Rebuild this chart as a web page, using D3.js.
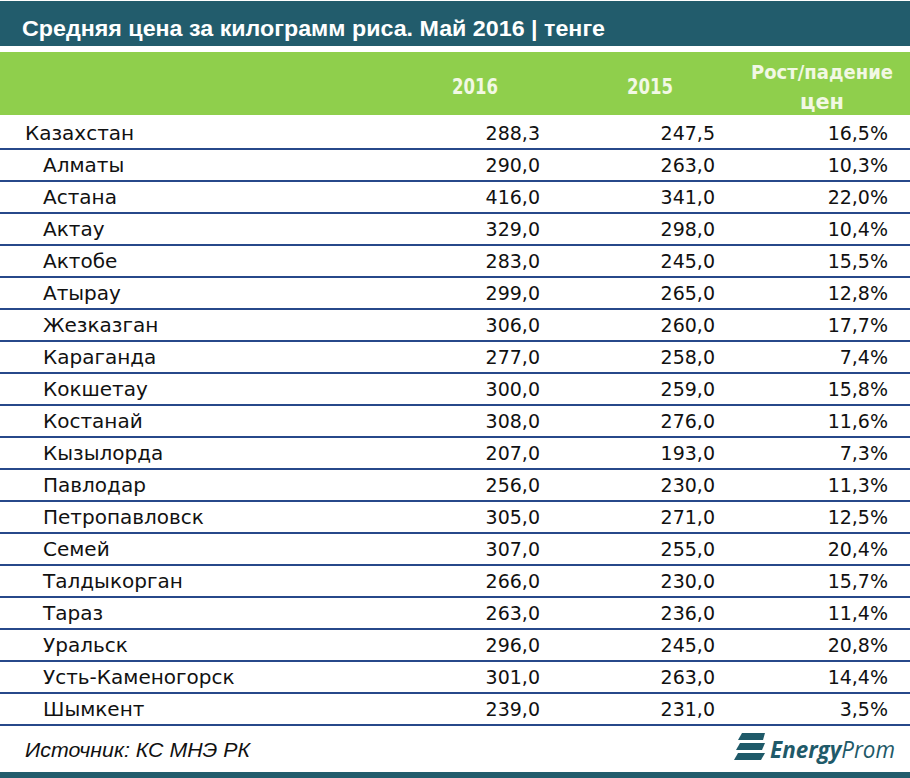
<!DOCTYPE html>
<html>
<head>
<meta charset="utf-8">
<script src="https://cdn.jsdelivr.net/npm/d3@7"></script>
<style>
  body { margin: 0; background: #fff; }
  svg text { font-family: "DejaVu Sans", sans-serif; }
</style>
</head>
<body>
<div id="wrapper"></div>
<script>
// data
const regions = ["Казахстан", "Алматы", "Астана", "Актау", "Актобе", "Атырау", "Жезказган",
  "Караганда", "Кокшетау", "Костанай", "Кызылорда", "Павлодар", "Петропавловск", "Семей",
  "Талдыкорган", "Тараз", "Уральск", "Усть-Каменогорск", "Шымкент"]
const price2016 = [288.3, 290, 416, 329, 283, 299, 306, 277, 300, 308, 207, 256, 305, 307, 266, 263, 296, 301, 239]
const price2015 = [247.5, 263, 341, 298, 245, 265, 260, 258, 259, 276, 193, 230, 271, 255, 230, 236, 245, 263, 231]
const change = [16.5, 10.3, 22.0, 10.4, 15.5, 12.8, 17.7, 7.4, 15.8, 11.6, 7.3, 11.3, 12.5, 20.4, 15.7, 11.4, 20.8, 14.4, 3.5]
const columns = ["2016", "2015", "Рост/падение цен"]
const title = "Средняя цена за килограмм риса. Май 2016 | тенге"
const source = "Источник: КС МНЭ РК"

const width = 910
const height = 778

const svg = d3.select("#wrapper")
  .append("svg")
    .attr("width", width)
    .attr("height", height)

// title bar
svg.append("rect")
  .attr("x", 0).attr("y", 1)
  .attr("width", width).attr("height", 45)
  .attr("fill", "#225c6c")
svg.append("text")
  .attr("x", 22).attr("y", 36)
  .attr("fill", "#fff")
  .style("font-family", "'Liberation Sans Narrow', 'Liberation Sans', sans-serif")
  .style("font-weight", "bold")
  .style("font-size", "22px")
  .attr("textLength", 583)
  .attr("lengthAdjust", "spacingAndGlyphs")
  .text(title)

// header band
svg.append("rect")
  .attr("x", 0).attr("y", 52)
  .attr("width", width).attr("height", 63)
  .attr("fill", "#8fcf4c")

const colX = [540, 715, 888]  // right edges of number columns
const header = svg.append("g")
  .attr("fill", "#f2f8e4")
  .style("font-family", "'Liberation Sans Narrow', 'Liberation Sans', sans-serif")
  .style("font-weight", "bold")
  .style("font-size", "21px")
header.append("text").attr("x", 475).attr("y", 94).attr("text-anchor", "middle")
  .attr("textLength", 46).attr("lengthAdjust", "spacingAndGlyphs").text(columns[0])
header.append("text").attr("x", 650).attr("y", 94).attr("text-anchor", "middle")
  .attr("textLength", 46).attr("lengthAdjust", "spacingAndGlyphs").text(columns[1])
const hdr = columns[2].split(" ")
header.append("text").attr("x", 822).attr("y", 79).attr("text-anchor", "middle")
  .style("font-size", "19px")
  .attr("textLength", 142).attr("lengthAdjust", "spacingAndGlyphs").text(hdr[0])
header.append("text").attr("x", 822).attr("y", 109).attr("text-anchor", "middle")
  .attr("textLength", 44).attr("lengthAdjust", "spacingAndGlyphs").text(hdr[1])

// rows
const y = d3.scaleBand()
  .domain(d3.range(regions.length))
  .range([117, 117 + 32 * regions.length])

const fmt = v => d3.format(".1f")(v).replace(".", ",")

const rows = svg.append("g")
  .selectAll("g")
  .data(regions)
  .join("g")
    .attr("transform", (d, i) => `translate(0, ${y(i)})`)

rows.append("line")
  .attr("x1", 0).attr("x2", width)
  .attr("y1", y.bandwidth()).attr("y2", y.bandwidth())
  .attr("stroke", "#27488a")
  .attr("stroke-width", 2)

const cellY = y.bandwidth() / 2 + 7
rows.append("text")
  .attr("x", (d, i) => i == 0 ? 25 : 43)
  .attr("y", cellY)
  .attr("fill", "#111")
  .style("font-size", "20px")
  .text(d => d)
rows.append("text")
  .attr("x", colX[0]).attr("y", cellY)
  .attr("text-anchor", "end")
  .attr("fill", "#111")
  .style("font-size", "19px")
  .text((d, i) => fmt(price2016[i]))
rows.append("text")
  .attr("x", colX[1]).attr("y", cellY)
  .attr("text-anchor", "end")
  .attr("fill", "#111")
  .style("font-size", "19px")
  .text((d, i) => fmt(price2015[i]))
rows.append("text")
  .attr("x", colX[2]).attr("y", cellY)
  .attr("text-anchor", "end")
  .attr("fill", "#111")
  .style("font-size", "19px")
  .text((d, i) => fmt(change[i]) + "%")

// footer
svg.append("text")
  .attr("x", 25).attr("y", 757)
  .attr("fill", "#111")
  .style("font-family", "'Liberation Sans Narrow', 'Liberation Sans', sans-serif")
  .style("font-style", "italic")
  .style("font-size", "21px")
  .attr("textLength", 225)
  .attr("lengthAdjust", "spacingAndGlyphs")
  .text(source)

// logo
const logo = svg.append("g").attr("transform", "translate(735, 733)")
d3.range(3).forEach(i => {
  logo.append("path")
    .attr("d", `M${7 - i * 2},${i * 10} L30,${i * 10} L${28 - i * 1},${i * 10 + 7} L${3 - i * 2},${i * 10 + 7} Z`)
    .attr("fill", "#1f5a69")
})
const logoText = logo.append("text")
  .attr("x", 35).attr("y", 25)
  .attr("fill", "#1f5a69")
  .style("font-family", "'Open Sans', sans-serif")
  .style("font-style", "italic")
  .style("font-size", "24px")
  .attr("textLength", 125)
  .attr("lengthAdjust", "spacingAndGlyphs")
logoText.append("tspan").style("font-weight", "bold").text("Energy")
logoText.append("tspan").text("Prom")

// bottom bar
svg.append("rect")
  .attr("x", 0).attr("y", 772)
  .attr("width", width).attr("height", 6)
  .attr("fill", "#225c6c")
</script>
</body>
</html>
